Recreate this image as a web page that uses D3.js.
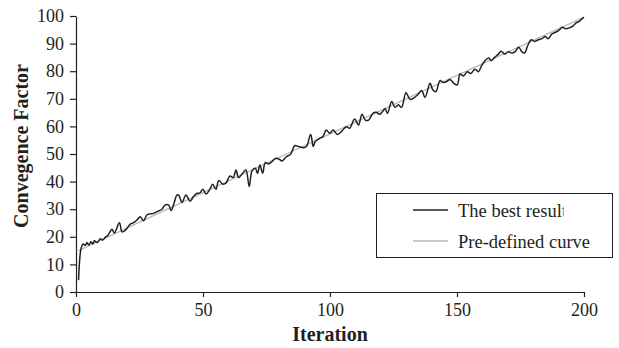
<!DOCTYPE html>
<html>
<head>
<meta charset="utf-8">
<script src="https://cdn.jsdelivr.net/npm/d3@7"></script>
<style>
  body { margin: 0; background: #fff; }
  svg text { font-family: "Liberation Serif", "Times New Roman", serif; fill: #231f20; }
</style>
</head>
<body>
<svg id="chart" width="619" height="348"></svg>
<script>
// values
const bestIter = [1.0, 2.0, 2.8, 3.7, 4.3, 5.0, 5.9, 6.6, 7.2, 8.3, 9.6, 10.5, 11.5, 12.6, 14.2, 15.1, 17.1, 18.1, 19.2, 20.1,
  21.4, 22.7, 24.0, 25.3, 26.6, 27.9, 29.3, 30.5, 32.8, 33.9, 34.9, 36.5, 37.4, 38.5, 39.8, 40.5, 41.7, 43.3, 44.9, 46.2,
  47.5, 48.8, 49.9, 51.2, 52.5, 53.8, 55.1, 56.2, 57.7, 59.0, 60.6, 61.9, 63.0, 64.0, 65.6, 66.9, 68.2, 69.3, 70.6, 71.5,
  72.4, 73.5, 74.5, 75.8, 77.1, 78.5, 80.0, 81.1, 82.8, 84.5, 86.1, 87.7, 89.4, 90.7, 92.4, 93.4, 94.2, 95.9, 97.2, 98.5,
  99.9, 101.2, 102.9, 104.5, 106.4, 107.7, 109.7, 111.2, 112.6, 113.9, 115.2, 116.9, 118.2, 119.5, 120.8, 121.7, 122.6, 124.3, 125.6, 126.9,
  128.2, 129.9, 131.5, 132.8, 134.4, 136.1, 137.4, 139.4, 140.4, 141.7, 143.3, 144.6, 145.9, 147.2, 148.8, 150.1, 151.2, 152.5, 154.1, 155.4,
  157.1, 158.4, 159.7, 161.0, 162.5, 163.5, 164.8, 166.1, 167.4, 168.8, 170.1, 171.7, 173.0, 174.3, 175.6, 176.6, 177.9, 179.2, 180.6, 182.1,
  183.5, 184.8, 185.8, 187.4, 189.0, 190.3, 191.4, 192.7, 194.3, 195.6, 196.9, 198.2, 199.2, 200.0];
const bestValue = [4.3, 15.8, 17.4, 16.9, 17.9, 17.0, 18.2, 17.4, 18.6, 17.9, 19.3, 18.8, 19.8, 20.6, 22.7, 21.4, 25.1, 21.8, 22.2, 23.1,
  24.6, 25.1, 26.1, 27.3, 25.8, 27.9, 28.3, 28.5, 29.5, 30.0, 31.4, 31.5, 29.5, 31.9, 35.2, 35.0, 32.5, 35.1, 32.9, 34.5,
  35.7, 35.9, 37.2, 35.5, 36.9, 39.0, 37.2, 40.4, 39.1, 39.4, 42.0, 41.5, 44.2, 41.5, 43.0, 44.2, 38.2, 43.9, 44.8, 43.0,
  46.0, 43.0, 46.9, 46.4, 47.2, 48.4, 48.1, 47.5, 49.0, 49.9, 53.0, 52.7, 52.3, 52.7, 57.1, 52.7, 54.5, 55.7, 56.3, 58.7,
  57.5, 58.7, 57.1, 58.1, 59.9, 59.3, 62.7, 60.5, 64.4, 62.3, 62.3, 64.7, 65.1, 64.4, 65.5, 66.5, 64.7, 69.0, 66.9, 67.8,
  66.9, 72.2, 69.8, 70.2, 71.4, 73.0, 70.5, 75.6, 73.4, 72.6, 76.6, 75.9, 76.2, 77.0, 75.6, 75.0, 79.0, 78.3, 79.8, 79.2,
  80.7, 79.8, 82.0, 83.8, 84.8, 83.8, 85.0, 86.0, 87.2, 86.2, 87.0, 86.6, 87.2, 88.7, 87.0, 86.6, 89.4, 91.4, 90.8, 91.4,
  91.8, 92.6, 91.8, 93.5, 94.2, 95.0, 95.9, 95.4, 95.7, 96.3, 97.5, 98.1, 99.0, 99.5];

const curveIter = [1, 50, 100, 150, 200];
const curveValue = [15, 36, 57.3, 78.5, 99.6];

const xTicks = [0, 50, 100, 150, 200];
const yTicks = [0, 10, 20, 30, 40, 50, 60, 70, 80, 90, 100];
const seriesNames = ["The best result", "Pre-defined curve"];

const svg = d3.select("#chart");
const plotLeft = 76, plotRight = 584, plotTop = 16, plotBottom = 292;

const x = d3.scaleLinear().domain([0, 200]).range([plotLeft, plotRight]);
const y = d3.scaleLinear().domain([0, 100]).range([plotBottom, plotTop]);

// axes
const xAxis = svg.append("g")
  .attr("transform", "translate(0," + plotBottom + ")")
  .call(d3.axisBottom(x).tickValues(xTicks).tickSize(5).tickSizeOuter(0).tickPadding(6));
const yAxis = svg.append("g")
  .attr("transform", "translate(" + plotLeft + ",0)")
  .call(d3.axisLeft(y).tickValues(yTicks).tickSize(6).tickSizeOuter(0).tickPadding(6));

[xAxis, yAxis].forEach(g => {
  g.selectAll("path, line").attr("stroke", "#231f20").attr("stroke-width", 1.2);
  g.selectAll("text").style("font-size", "18px").attr("fill", "#231f20");
});

// lines
const bestData = bestIter.map((d, i) => [d, bestValue[i]]);
const curveData = curveIter.map((d, i) => [d, curveValue[i]]);

const line = d3.line()
  .x(d => x(d[0]))
  .y(d => y(d[1]))
  .curve(d3.curveCatmullRom.alpha(0.5));

svg.append("path")
  .datum(curveData)
  .attr("fill", "none")
  .attr("stroke", "#b8b8b8")
  .attr("stroke-width", 1.2)
  .attr("d", line);

svg.append("path")
  .datum(bestData)
  .attr("fill", "none")
  .attr("stroke", "#231f20")
  .attr("stroke-width", 1.5)
  .attr("d", line);

// axis titles
svg.append("text")
  .attr("x", (plotLeft + plotRight) / 2)
  .attr("y", 341)
  .attr("text-anchor", "middle")
  .style("font-size", "20px")
  .style("font-weight", "bold")
  .text("Iteration");

svg.append("text")
  .attr("transform", "translate(28,146) rotate(-90)")
  .attr("text-anchor", "middle")
  .style("font-size", "20px")
  .style("font-weight", "bold")
  .text("Convegence Factor");

// legend (first label is cut off at the right, as in the original)
const legend = svg.append("g");
svg.append("clipPath").attr("id", "legclip")
  .append("rect").attr("x", 376).attr("y", 193).attr("width", 187.5).attr("height", 64);

legend.append("rect")
  .attr("x", 376.5).attr("y", 193.5)
  .attr("width", 236).attr("height", 64)
  .attr("fill", "#fff")
  .attr("stroke", "#231f20")
  .attr("stroke-width", 1);

const legColors = ["#231f20", "#b8b8b8"];
seriesNames.forEach((name, i) => {
  const ly = 210 + i * 31;
  legend.append("line")
    .attr("x1", 413).attr("x2", 448)
    .attr("y1", ly).attr("y2", ly)
    .attr("stroke", legColors[i])
    .attr("stroke-width", 1.4);
  legend.append("text")
    .attr("x", 458).attr("y", ly + 6.5)
    .attr("clip-path", i === 0 ? "url(#legclip)" : null)
    .style("font-size", "18.5px")
    .text(name);
});
</script>
</body>
</html>
